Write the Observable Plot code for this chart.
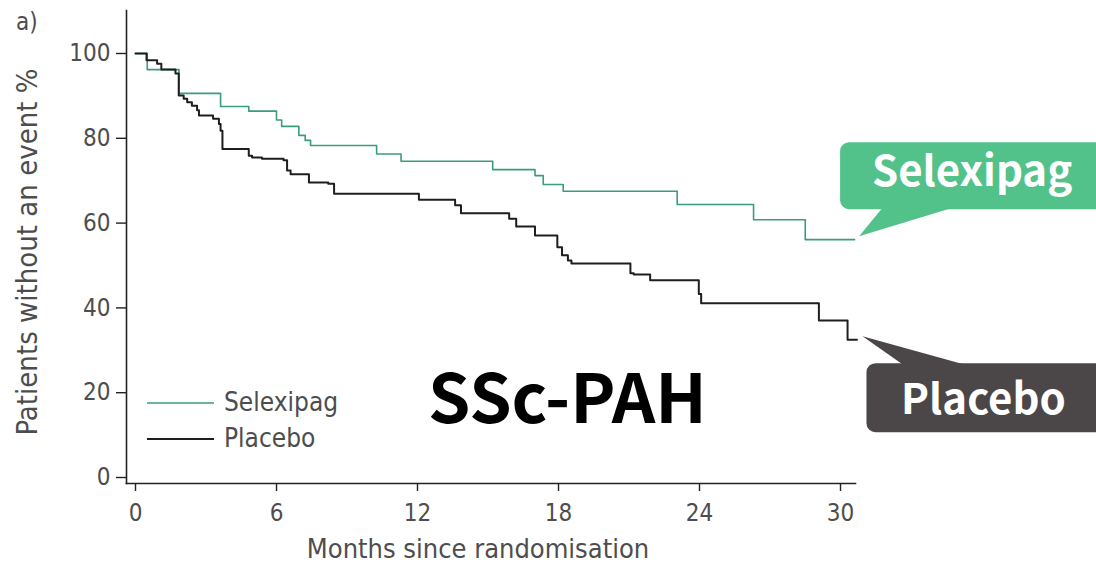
<!DOCTYPE html>
<html>
<head>
<meta charset="utf-8">
<script src="https://cdn.jsdelivr.net/npm/d3@7"></script>
<script src="https://cdn.jsdelivr.net/npm/@observablehq/plot@0.6"></script>
<style>
  html, body { margin: 0; padding: 0; background: #fff; }
  #chart svg { display: block; }
</style>
</head>
<body>
<div id="chart"></div>
<script>
// Kaplan–Meier estimates: month of each step and the percentage without an event after it
const selexipagMonths = [0, 0.5, 1.85, 3.62, 4.82, 6.0, 6.22, 6.95, 7.22, 7.45, 10.26, 11.3, 15.2, 17.0, 17.35, 18.2, 23.05, 26.3, 28.5, 30.6];
const selexipagPct    = [100, 96.2, 90.6, 87.5, 86.4, 84.3, 82.8, 80.7, 79.5, 78.3, 76.3, 74.6, 72.6, 71.2, 69.1, 67.5, 64.4, 60.8, 56.1, 56.1];

const placeboMonths = [0, 0.47, 0.92, 1.1, 1.7, 1.84, 2.05, 2.2, 2.4, 2.62, 2.7, 3.3, 3.55, 3.62, 3.7, 4.82, 4.96, 5.38, 6.3, 6.45, 6.6, 7.38, 8.2, 8.45, 12.06, 13.6, 13.85, 15.9, 16.2, 17.0, 17.95, 18.15, 18.4, 18.55, 21.06, 21.2, 21.9, 23.97, 24.07, 29.08, 30.3, 30.7];
const placeboPct    = [100, 98.4, 97.6, 96.2, 95.3, 90.1, 89.3, 88.5, 87.7, 86.6, 85.4, 84.6, 83.4, 81.8, 77.5, 75.9, 75.5, 75.2, 74.8, 72.4, 71.5, 69.6, 69.3, 66.9, 65.5, 64.2, 62.3, 61.0, 59.2, 57.1, 54.3, 52.4, 51.2, 50.5, 48.2, 47.9, 46.5, 43.3, 41.1, 37.0, 32.5, 32.5];

const seriesNames = ["Selexipag", "Placebo"];
const monthTicks = [0, 6, 12, 18, 24, 30];
const pctTicks = [0, 20, 40, 60, 80, 100];
const panelTag = "a)";
const titleText = "SSc-PAH";
const xLabel = "Months since randomisation";
const yLabel = "Patients without an event %";

const lineGreen = "#3a9c7e";
const lineBlack = "#1e1e1e";
const boxGreen = "#52c28a";
const boxGrey = "#4b4748";
const inkGrey = "#4d4d4d";
const axisFont = "'DejaVu Sans Condensed', 'DejaVu Sans', sans-serif";
const boldFont = "'Noto Sans CJK JP', 'Noto Sans', sans-serif";

const toRows = (group, months, pcts) => months.map((m, i) => ({group, month: m, pct: pcts[i]}));
const rows = [
  ...toRows(seriesNames[0], selexipagMonths, selexipagPct),
  ...toRows(seriesNames[1], placeboMonths, placeboPct)
];

const plot = Plot.plot({
  width: 1096,
  height: 573,
  marginLeft: 126,
  marginRight: 241,
  marginTop: 10,
  marginBottom: 90,
  style: {fontFamily: axisFont, background: "#fff", overflow: "visible"},
  x: {domain: [-0.383, 30.638]},
  y: {domain: [-1.415, 110.14]},
  color: {domain: seriesNames, range: [lineGreen, lineBlack]},
  marks: [
    Plot.frame({anchor: "left", stroke: "#222", strokeWidth: 1.6}),
    Plot.frame({anchor: "bottom", stroke: "#222", strokeWidth: 1.6}),
    Plot.axisY({ticks: pctTicks, tickSize: 10, tickPadding: 6, fontSize: 24, stroke: "#222", fill: inkGrey, strokeWidth: 1.4, label: null}),
    Plot.axisX({ticks: monthTicks, tickSize: 8, tickPadding: 12, fontSize: 24, stroke: "#222", fill: inkGrey, strokeWidth: 1.4, label: null}),
    Plot.text([xLabel], {frameAnchor: "bottom", dx: -13, dy: 74, fontSize: 27, fill: inkGrey}),
    Plot.text([yLabel], {frameAnchor: "left", dx: -99, dy: 5, rotate: -90, textAnchor: "middle", fontSize: 29, fill: inkGrey}),
    Plot.line(rows.filter(d => d.group === seriesNames[0]), {x: "month", y: "pct", stroke: "group", curve: "step-after", strokeWidth: 1.6}),
    Plot.line(rows.filter(d => d.group === seriesNames[1]), {x: "month", y: "pct", stroke: "group", curve: "step-after", strokeWidth: 2})
  ]
});

document.getElementById("chart").append(plot);

const svg = d3.select(plot);
const sx = plot.scale("x"), sy = plot.scale("y");

// panel tag
svg.append("text").attr("x", 16).attr("y", 30).attr("text-anchor", "start")
  .attr("font-family", axisFont).attr("font-size", 24).attr("fill", inkGrey)
  .text(panelTag);

// legend
const legend = svg.append("g").attr("font-family", axisFont).attr("font-size", 26)
  .attr("fill", inkGrey).attr("text-anchor", "start");
[[seriesNames[0], lineGreen, 403, 1.6], [seriesNames[1], lineBlack, 439, 1.8]].forEach(([name, color, y, w]) => {
  legend.append("line").attr("x1", 147).attr("x2", 214).attr("y1", y).attr("y2", y)
    .attr("stroke", color).attr("stroke-width", w);
  legend.append("text").attr("x", 224).attr("y", y).attr("dy", "0.3em").text(name);
});

// panel title
svg.append("text").attr("x", 428).attr("y", 423).attr("text-anchor", "start")
  .attr("font-family", boldFont).attr("font-weight", 700).attr("font-size", 68).attr("fill", "#000")
  .text(titleText);

// callouts pointing at the last value of each curve
function callout(name, fill, tipX, tipY, box, base, textX, textY, size) {
  const g = svg.append("g");
  g.append("rect").attr("x", box[0]).attr("y", box[1]).attr("width", box[2]).attr("height", box[3])
    .attr("rx", 9).attr("fill", fill);
  g.append("path").attr("d", `M${base[0]},${base[2]}L${tipX},${tipY}L${base[1]},${base[2]}Z`).attr("fill", fill);
  g.append("text").attr("x", textX).attr("y", textY).attr("text-anchor", "middle")
    .attr("font-family", boldFont).attr("font-weight", 700).attr("font-size", size).attr("fill", "#fff")
    .text(name);
}
const selEndX = sx.apply(selexipagMonths.at(-1)), selEndY = sy.apply(selexipagPct.at(-1));
const plaEndX = sx.apply(placeboMonths.at(-1)), plaEndY = sy.apply(placeboPct.at(-1));
callout(seriesNames[0], boxGreen, selEndX + 5, selEndY - 3,
  [selEndX - 14, selEndY - 97, 270, 67], [selEndX + 28, selEndX + 97, selEndY - 31], selEndX + 118, selEndY - 53, 42);
callout(seriesNames[1], boxGrey, plaEndX + 6, plaEndY - 3,
  [plaEndX + 10, plaEndY + 24, 270, 69], [plaEndX + 46, plaEndX + 107, plaEndY + 25], plaEndX + 127, plaEndY + 75, 42);
</script>
</body>
</html>
